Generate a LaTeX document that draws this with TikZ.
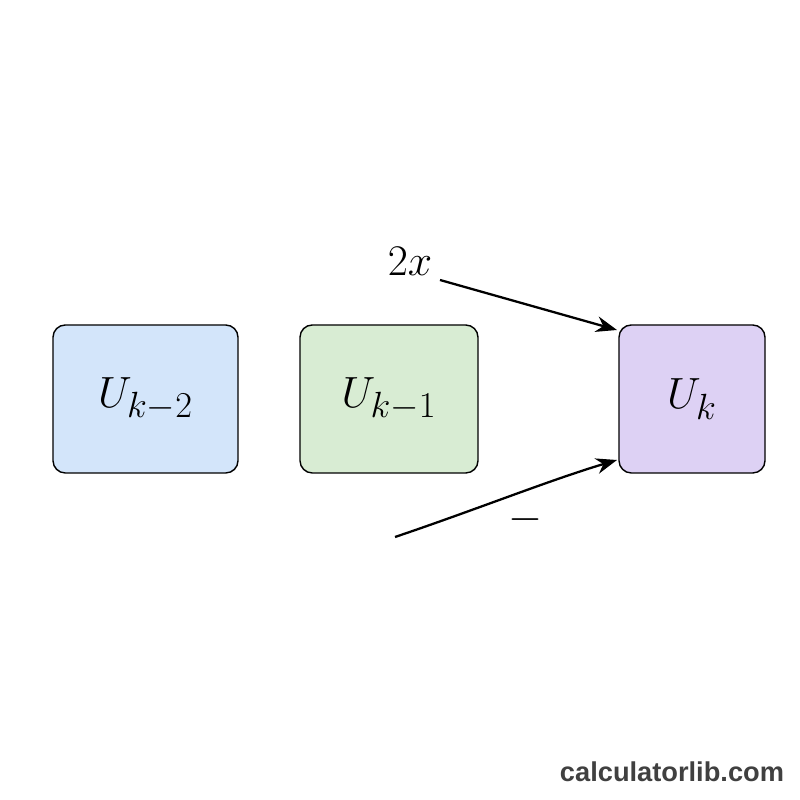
\documentclass[tikz,border=0pt]{standalone}
\usepackage{fontspec}
\newfontfamily\wm{Liberation Sans}
\usetikzlibrary{arrows.meta}
\definecolor{cb}{HTML}{D3E5FA}
\definecolor{cg}{HTML}{D8ECD3}
\definecolor{cp}{HTML}{DDD1F4}
\begin{document}
\begin{tikzpicture}
\useasboundingbox (0,0) rectangle (16,16);
\tikzset{bx/.style={draw=black, line width=0.8pt, rounded corners=7pt, minimum height=2.96cm, font=\fontsize{28}{32}\selectfont},
 arr/.style={-{Stealth[length=12pt,width=9pt]}, line width=1.3pt}}
\node[bx, fill=cb, minimum width=3.7cm] (a) at (2.91,8.02) {$U_{k-2}$};
\node[bx, fill=cg, minimum width=3.56cm] (b) at (7.78,8.02) {$U_{k-1}$};
\node[bx, fill=cp, minimum width=2.92cm] (c) at (13.84,8.02) {$U_k$};
\node[font=\fontsize{25}{28}\selectfont] (t) at (8.2,10.78) {$2x$};
\coordinate (s1) at (8.8,10.4);
\coordinate (s2) at (7.9,5.26);
\draw[arr] (s1) -- (12.34,9.4);
\draw[arr] (s2) .. controls (9.5,5.8) and (11,6.4) .. (12.34,6.8);
\node[font=\fontsize{24}{28}\selectfont] (m) at (10.5,5.6) {$-$};
\node[font=\wm\bfseries\fontsize{15.5}{19}\selectfont, text=black!75] (w) at (13.44,0.56) {calculatorlib.com};
\end{tikzpicture}
\end{document}
